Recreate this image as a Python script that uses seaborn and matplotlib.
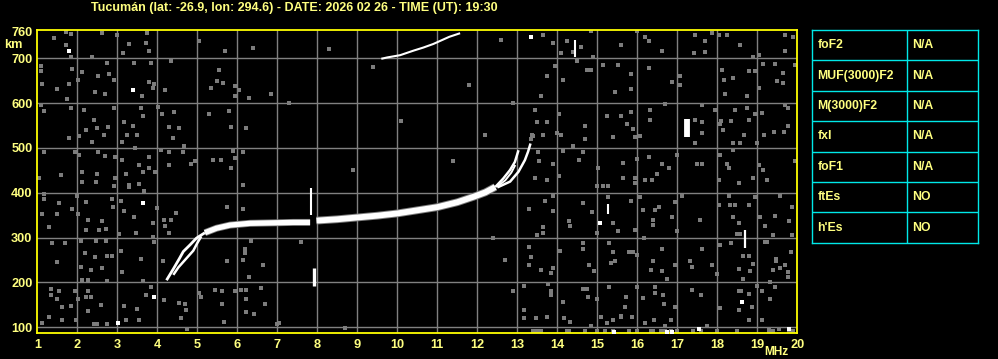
import matplotlib
matplotlib.use("Agg")
import matplotlib.pyplot as plt
import seaborn as sns
import pandas as pd

# ---------------- data ----------------
title = "Tucumán (lat: -26.9, lon: 294.6) - DATE: 2026 02 26 - TIME (UT): 19:30"
freq_ticks = list(range(1, 21))
height_ticks = [100, 200, 300, 400, 500, 600, 700, 760]

param_names = ["foF2", "MUF(3000)F2", "M(3000)F2", "fxI", "foF1", "ftEs", "h'Es"]
param_values = ["N/A", "N/A", "N/A", "N/A", "N/A", "NO", "NO"]

# F-layer trace (ordinary, low part), two strands at the start
f_low1 = [4.23, 4.4, 4.55, 4.65, 4.82, 4.98, 5.19, 5.48, 5.82, 6.32, 6.9, 7.4, 7.82]
h_low1 = [205, 230, 253, 269, 284, 299, 311, 321, 328, 332, 333, 334, 334]
f_low2 = [4.4, 4.53, 4.65, 4.78, 4.9, 5.0, 5.1]
h_low2 = [217, 234, 246, 259, 271, 288, 303]
# F-layer trace main part after the gap
f_main = [7.98, 8.5, 9.0, 9.5, 10.0, 10.5, 11.0, 11.5, 11.9, 12.2, 12.45]
h_main = [338, 341, 345, 349, 354, 361, 368, 379, 391, 401, 413]
# cusp strands
f_o = [12.45, 12.65, 12.82, 12.94, 13.03]
h_o = [413, 432, 451, 469, 495]
f_mid = [12.5, 12.7, 12.85, 12.95]
h_mid = [414, 428, 445, 462]
f_x = [12.5, 12.82, 13.03, 13.19, 13.27, 13.33]
h_x = [412, 425, 447, 473, 492, 510]
# second-hop trace
f_hop = [9.6, 9.75, 10.07, 10.4, 10.65, 10.9, 11.3, 11.57]
h_hop = [699, 702, 707, 717, 724, 732, 748, 756]

# vertical spikes (freq, bottom km, top km)
spike_f = [7.85, 7.92, 14.44, 17.24, 18.69, 15.28]
spike_lo = [350, 192, 703, 524, 277, 353]
spike_hi = [410, 232, 740, 565, 316, 375]

# background noise specks (grey)
noise_f = [1.42, 1.71, 1.83, 1.71, 1.83, 2.38, 2.62, 2.98, 3.28, 3.14, 3.73, 3.71, 3.79, 5.03, 5.68, 6.38,
           1.08, 1.08, 1.88, 2.13, 2.75, 2.79, 2.92, 3.42, 3.83, 4.33, 1.13, 1.48, 1.79, 2.02, 2.53, 2.44,
           2.69, 3.61, 3.79, 3.92, 3.88, 4.18, 5.53, 5.48, 5.64, 5.33, 5.93, 6.03, 5.93, 6.28, 6.83, 1.75,
           1.08, 1.17, 1.83, 2.17, 2.42, 2.92, 3.58, 3.63, 3.17, 3.38, 4.02, 4.12, 4.29, 4.42, 4.54, 5.28,
           5.78, 5.83, 6.22, 1.79, 2.04, 2.22, 2.48, 2.77, 2.67, 2.38, 3.25, 3.48, 3.13, 4.38, 1.17, 1.94,
           2.04, 2.53, 2.69, 2.93, 3.43, 3.79, 4.08, 4.29, 4.63, 4.67, 4.93, 4.83, 4.28, 3.13, 3.53, 3.63,
           3.93, 3.23, 3.79, 5.38, 5.58, 5.93, 5.88, 5.83, 6.13, 1.58, 1.03, 2.13, 2.48, 2.94, 3.29, 3.53,
           6.13, 2.13, 2.46, 2.92, 3.29, 3.53, 3.67, 1.17, 1.17, 1.54, 2.22, 2.0, 2.88, 2.89, 3.08, 3.98,
           1.13, 1.5, 1.88, 2.02, 2.27, 2.62, 3.17, 3.42, 3.88, 4.17, 4.33, 4.19, 4.47, 1.29, 2.21, 2.54,
           2.71, 3.04, 3.46, 3.88, 4.29, 5.75, 6.13, 1.38, 1.69, 2.08, 2.46, 2.72, 3.08, 2.19, 2.44, 2.73,
           2.88, 1.48, 2.08, 2.33, 2.63, 3.11, 3.58, 4.13, 3.92, 2.13, 2.27, 2.73, 3.63, 3.83, 6.19, 6.19,
           5.75, 6.13, 6.28, 6.63, 6.33, 1.33, 1.53, 1.94, 2.27, 1.33, 1.48, 1.63, 1.83, 2.22, 2.33, 2.03,
           1.29, 1.13, 1.63, 1.96, 2.42, 2.5, 2.27, 2.58, 2.73, 3.21, 3.17, 3.5, 3.54, 3.71, 4.17, 4.54,
           4.68, 4.72, 4.58, 5.04, 5.08, 5.44, 5.62, 5.94, 6.08, 6.22, 6.58, 6.22, 5.62, 6.22, 6.42, 6.68,
           5.67, 7.0, 4.73, 7.03, 8.69,
           13.63, 13.88, 14.23, 14.09, 14.4, 14.48, 14.58, 14.83, 14.88, 14.73, 14.83, 15.58, 15.98, 16.19,
           16.29, 16.63, 17.44, 17.69, 17.69, 17.88, 17.42, 18.05, 18.23, 18.58, 18.9, 19.05, 19.69, 19.69,
           19.9, 13.94, 13.73, 14.15, 15.15, 15.53, 15.84, 15.84, 16.28, 16.88, 17.08, 17.08, 18.11, 18.17,
           18.4, 18.8, 18.94, 19.15, 19.43, 19.65, 19.94, 19.5, 19.65, 19.03, 15.44, 13.58, 18.19, 18.73,
           13.44, 13.48, 13.73, 14.05, 14.69, 15.23, 15.58, 15.73, 15.88, 15.83, 16.33, 16.33, 16.69, 17.63,
           17.63, 17.94, 18.08, 18.44, 18.73, 18.94, 19.13, 18.78, 19.69, 19.77, 19.77, 19.67, 19.42, 19.17,
           18.67, 18.1, 18.35, 13.38, 13.63, 13.98, 14.09, 14.69, 14.4, 15.38, 15.94, 16.08, 17.44, 17.61,
           17.44, 18.15, 18.4, 18.57, 19.0, 13.53, 13.55, 14.13, 14.63, 14.55, 13.9, 14.05, 15.03, 15.63,
           15.98, 16.28, 16.63, 16.78, 16.48, 16.98, 17.48, 17.63, 18.08, 18.23, 18.3, 18.4, 19.03, 19.15,
           19.94, 13.44, 13.73, 15.64, 15.94, 15.94, 16.19, 16.36, 18.03, 18.53, 18.9, 19.23, 15.0, 15.13,
           15.28, 13.9, 13.69, 13.3, 13.88, 14.63, 14.86, 15.28, 15.84, 16.08, 16.15, 16.44, 16.53, 16.94,
           17.13, 16.86, 16.4, 16.4, 17.58, 18.05, 18.3, 18.31, 18.44, 18.4, 18.55, 18.8, 18.94, 19.07,
           19.2, 19.45, 19.58, 19.78, 19.88, 14.3, 14.32, 13.63, 13.63, 13.48, 15.38, 15.53, 15.0, 15.94,
           16.17, 16.98, 18.5, 18.57, 19.4, 19.88, 19.23, 14.63, 14.65, 14.07, 13.3, 13.33, 13.3, 13.58,
           13.83, 13.9, 14.8, 14.91, 15.3, 15.4, 15.45, 15.35, 15.8, 15.9, 16.0, 16.4, 16.35, 16.62, 16.63,
           16.73, 16.93, 17.32, 17.38, 17.63, 17.88, 17.98, 18.07, 18.34, 18.78, 18.64, 18.53, 18.82, 18.64,
           18.9, 19.47, 19.47, 19.4, 19.58, 19.7, 19.77, 19.77, 19.85, 19.33, 19.2, 13.17, 13.78, 13.85,
           13.85, 14.63, 14.73, 14.78, 14.13, 14.98, 15.3, 15.72, 15.7, 15.6, 15.98, 16.15, 16.43, 16.43,
           16.64, 16.66, 16.93, 17.38, 17.6, 18.07, 18.53, 18.6, 18.8, 18.98, 19.13, 19.33, 18.55, 18.87,
           19.43, 13.17, 13.17, 13.46, 13.73, 14.17, 14.32, 14.83, 15.1, 15.23, 15.38, 15.6, 15.87, 16.2,
           16.41, 16.7, 16.85, 17.75, 18.8, 19.13, 19.28, 19.53,
           13.4, 13.5, 13.6, 14.25, 14.3, 14.7, 15.0, 15.2, 15.4, 15.8, 16.0, 16.35, 16.4, 16.6, 16.7,
           16.85, 17.0, 17.4, 17.6, 18.0, 18.5, 19.3, 19.4, 19.8, 19.9,
           8.3, 9.4, 10.1, 11.8, 12.6, 12.9, 7.3, 8.9, 11.4, 12.2, 12.4, 12.7, 12.9, 7.6, 13.35, 13.37]
noise_h = [745, 759, 754, 730, 704, 704, 756, 751, 732, 712, 756, 734, 717, 738, 717, 723,
           682, 671, 677, 670, 690, 664, 652, 690, 690, 693, 643, 632, 643, 652, 661, 626,
           620, 617, 647, 643, 634, 630, 675, 650, 645, 634, 638, 630, 617, 612, 620, 610,
           595, 582, 589, 585, 563, 589, 589, 571, 558, 550, 591, 576, 546, 580, 545, 576,
           582, 546, 545, 522, 526, 541, 545, 546, 528, 513, 530, 528, 513, 522, 491, 491,
           484, 491, 483, 481, 499, 481, 496, 491, 490, 504, 472, 464, 461, 474, 461, 446,
           446, 443, 455, 474, 474, 478, 494, 455, 491, 440, 433, 446, 443, 433, 417, 420,
           418, 424, 424, 416, 414, 419, 405, 398, 387, 377, 379, 394, 387, 368, 381, 366,
           353, 353, 364, 353, 340, 337, 359, 347, 332, 340, 340, 327, 355, 323, 316, 317,
           320, 309, 310, 301, 310, 368, 364, 288, 288, 292, 292, 292, 270, 265, 256, 260,
           260, 245, 234, 228, 233, 223, 253, 248, 290, 206, 206, 204, 204, 190, 275, 265,
           248, 251, 213, 240, 292, 186, 182, 182, 181, 171, 164, 145, 147, 167, 167, 164,
           123, 110, 116, 116, 108, 108, 137, 149, 108, 116, 147, 141, 116, 173, 162, 154,
           152, 139, 121, 176, 167, 184, 181, 181, 184, 184, 188, 164, 152, 134, 130, 151,
           112, 108, 97, 109, 98,
           753, 734, 738, 712, 714, 693, 725, 762, 704, 675, 675, 730, 762, 747,
           738, 717, 751, 738, 715, 756, 712, 751, 753, 730, 704, 708, 751, 717,
           747, 682, 661, 652, 684, 684, 666, 632, 678, 647, 660, 640, 675, 652,
           656, 671, 671, 687, 687, 667, 684, 649, 645, 634, 626, 616, 621, 617,
           585, 558, 558, 576, 548, 572, 572, 554, 543, 580, 585, 563, 598, 595,
           558, 585, 554, 585, 589, 576, 578, 563, 595, 589, 548, 536, 536, 528,
           528, 560, 560, 526, 528, 534, 528, 521, 504, 524, 524, 526, 563, 533,
           511, 541, 511, 511, 511, 492, 471, 494, 491, 474, 464, 437, 455, 466,
           476, 481, 464, 455, 442, 484, 464, 464, 485, 464, 455, 496, 461, 452,
           470, 433, 428, 433, 433, 422, 428, 428, 428, 422, 433, 428, 415, 415,
           415, 394, 381, 364, 359, 377, 357, 390, 381, 390, 361, 361, 368, 379,
           394, 346, 340, 329, 340, 372, 394, 372, 372, 346, 332, 372, 390, 346,
           327, 349, 394, 337, 368, 337, 325, 323, 310, 305, 332, 315, 310, 316,
           300, 315, 308, 308, 305, 307, 290, 288, 275, 270, 279, 256, 238, 228,
           221, 233, 238, 225, 288, 268, 249, 243, 268, 268, 261, 249, 227, 275, 226,
           208, 240, 248, 234, 275, 238, 219, 284, 288, 258, 260, 230, 226, 208,
           242, 253, 247, 228, 233, 238, 223, 212, 268, 202, 291, 193, 196, 181,
           171, 186, 186, 167, 156, 164, 190, 167, 145, 124, 191, 166, 191, 176,
           173, 151, 146, 184, 171, 143, 180, 180, 175, 193, 182, 164, 138, 146,
           190, 138, 121, 121, 124, 121, 112, 102, 124, 109, 116, 126, 124, 109,
           116, 102, 116, 104, 116, 116, 96, 96,
           92, 92, 92, 92, 92, 92, 92, 92, 92, 92, 92, 92, 92, 92, 92,
           92, 92, 92, 92, 92, 92, 92, 92, 92, 92,
           720, 680, 560, 640, 740, 600, 600, 450, 470, 530, 300, 250, 180, 290, 520, 530]

# bright specks (white)
speck_f = [1.78, 3.38, 3.63, 3.02, 3.92, 13.33, 15.07, 18.63, 15.42, 16.73, 16.88, 17.54, 19.78]
speck_h = [717, 630, 377, 109, 167, 748, 332, 156, 90, 90, 90, 96, 96]

# ---------------- style ----------------
YEL = "#ffff00"
TXT = "#ffff80"
GRID = "#808080"
NOISE = "#7c7c7c"
CYAN = "#00e8e8"

sns.set_style("dark", {"axes.facecolor": "black", "figure.facecolor": "black"})
plt.rcParams["font.family"] = ["Liberation Sans", "DejaVu Sans"]
plt.rcParams["font.weight"] = "bold"

W, H = 998, 359
fig = plt.figure(figsize=(W / 100, H / 100), dpi=100, facecolor="black")
ax = fig.add_axes([37.3 / W, 26 / H, 760 / W, 303.5 / H])
ax.set_facecolor("black")
ax.set_xlim(1, 20)
ax.set_ylim(87.3, 764.3)

# grid
for f in freq_ticks[1:-1]:
    ax.axvline(f, color=GRID, lw=1.0, zorder=1)
for h in height_ticks[:-1]:
    ax.axhline(h, color=GRID, lw=1.0, zorder=1)

# noise
noise = pd.DataFrame({"f": noise_f, "h": noise_h})
sns.scatterplot(data=noise, x="f", y="h", ax=ax, marker="s", s=5, color=NOISE,
                linewidth=0, zorder=2, legend=False)
specks = pd.DataFrame({"f": speck_f, "h": speck_h})
sns.scatterplot(data=specks, x="f", y="h", ax=ax, marker="s", s=5, color="white",
                linewidth=0, zorder=3, legend=False)

def trace(fx, hy, lw, color="white", z=4):
    d = pd.DataFrame({"f": fx, "h": hy})
    sns.lineplot(data=d, x="f", y="h", ax=ax, sort=False, estimator=None,
                 color=color, lw=lw, zorder=z, solid_capstyle="butt")

# grey fringes
trace(f_low1[6:], h_low1[6:], 5.0, NOISE, 3)
trace(f_main, h_main, 5.6, NOISE, 3)
# white traces
trace(f_low1[:7], h_low1[:7], 2.0)
trace(f_low1[6:], h_low1[6:], 3.8)
trace(f_low2, h_low2, 1.8)
trace(f_main, h_main, 4.2)
trace(f_o, h_o, 1.8)
trace(f_mid, h_mid, 1.4)
trace(f_x, h_x, 1.8)
trace(f_hop, h_hop, 1.5)

# vertical spikes
spike_w = [1.5, 2.4, 1.5, 4.2, 1.6, 1.5]
for f, lo, hi, w in zip(spike_f, spike_lo, spike_hi, spike_w):
    ax.vlines(f, lo, hi, color="white", lw=w, zorder=5)

# axes frame and ticks
for sp in ax.spines.values():
    sp.set_visible(True)
    sp.set_color(YEL)
    sp.set_linewidth(1.3)
ax.set_xticks(freq_ticks)
ax.set_xticklabels([str(v) for v in freq_ticks])
ax.set_yticks(height_ticks)
ax.set_yticklabels([str(v) for v in height_ticks])
ax.tick_params(axis="both", length=0, colors=TXT, labelsize=9.2)
ax.tick_params(axis="x", pad=4.5)
ax.tick_params(axis="y", pad=3.5)
for lab in ax.get_xticklabels() + ax.get_yticklabels():
    lab.set_fontweight("bold")
ax.set_xlabel("")
ax.set_ylabel("")
ax.grid(False)

fig.text(13.5 / W, 1 - 45 / H, "km", color=TXT, fontsize=9.2, fontweight="bold",
         ha="center", va="center")
fig.text(788 / W, 1 - 352 / H, "MHz", color=TXT, fontsize=8.6, fontweight="bold",
         ha="right", va="center")
fig.text(294.5 / W, 1 - 7.5 / H, title, color=TXT, fontsize=9.0, fontweight="bold",
         ha="center", va="center")

# parameter table
tax = fig.add_axes([812.3 / W, 1 - 242.7 / H, 165.4 / W, 212.7 / H])
tax.set_facecolor("black")
tax.set_xlim(0, 1)
tax.set_ylim(len(param_names), 0)
tax.set_xticks([])
tax.set_yticks([])
for sp in tax.spines.values():
    sp.set_color(CYAN)
    sp.set_linewidth(1.0)
for i in range(1, len(param_names)):
    tax.axhline(i, color=CYAN, lw=1.0)
colx = (907.3 - 812.3) / 165.4
tax.axvline(colx, color=CYAN, lw=1.0)
for i, (n, v) in enumerate(zip(param_names, param_values)):
    tax.text(5 / 165.4, i + 0.5, n, color=TXT, fontsize=8.8, fontweight="bold",
             ha="left", va="center")
    tax.text(colx + 5 / 165.4, i + 0.5, v, color=TXT, fontsize=8.8, fontweight="bold",
             ha="left", va="center")

fig.savefig("out.png", dpi=100, facecolor="black")
